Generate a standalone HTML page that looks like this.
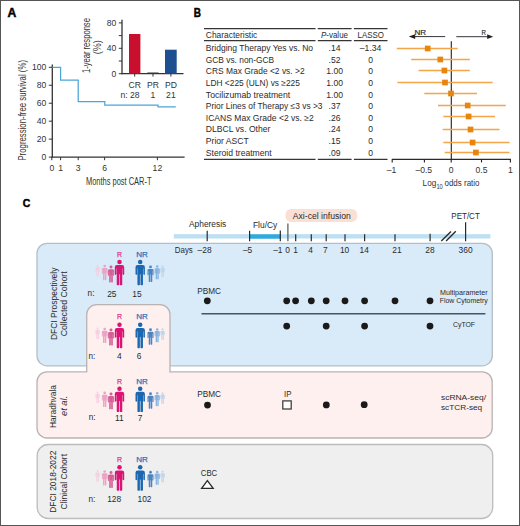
<!DOCTYPE html><html><head><meta charset="utf-8"><style>html,body{margin:0;padding:0;background:#fff;overflow:hidden}svg{display:block}text{font-family:"Liberation Sans",sans-serif}</style></head><body>
<svg width="520" height="526" viewBox="0 0 520 526">
<rect x="0" y="0" width="520" height="526" fill="#fff"/>
<text x="7.4" y="16.9" font-size="12.2" text-anchor="start" fill="#000" font-weight="bold" font-style="normal" textLength="8.8" lengthAdjust="spacingAndGlyphs" stroke="#000" stroke-width="0.45">A</text>
<line x1="52.3" y1="64.6" x2="52.3" y2="157.6" stroke="#333" stroke-width="1.3"/>
<line x1="48.8" y1="67.3" x2="52.3" y2="67.3" stroke="#333" stroke-width="1.0"/>
<text x="46.4" y="70.39999999999999" font-size="8.6" text-anchor="end" fill="#333" font-weight="normal" font-style="normal">100</text>
<line x1="48.8" y1="85.25999999999999" x2="52.3" y2="85.25999999999999" stroke="#333" stroke-width="1.0"/>
<text x="46.4" y="88.35999999999999" font-size="8.6" text-anchor="end" fill="#333" font-weight="normal" font-style="normal">80</text>
<line x1="48.8" y1="103.22" x2="52.3" y2="103.22" stroke="#333" stroke-width="1.0"/>
<text x="46.4" y="106.32" font-size="8.6" text-anchor="end" fill="#333" font-weight="normal" font-style="normal">60</text>
<line x1="48.8" y1="121.18" x2="52.3" y2="121.18" stroke="#333" stroke-width="1.0"/>
<text x="46.4" y="124.28" font-size="8.6" text-anchor="end" fill="#333" font-weight="normal" font-style="normal">40</text>
<line x1="48.8" y1="139.14" x2="52.3" y2="139.14" stroke="#333" stroke-width="1.0"/>
<text x="46.4" y="142.23999999999998" font-size="8.6" text-anchor="end" fill="#333" font-weight="normal" font-style="normal">20</text>
<line x1="48.8" y1="157.10000000000002" x2="52.3" y2="157.10000000000002" stroke="#333" stroke-width="1.0"/>
<text x="46.4" y="160.20000000000002" font-size="8.6" text-anchor="end" fill="#333" font-weight="normal" font-style="normal">0</text>
<line x1="51.7" y1="157.1" x2="184.6" y2="157.1" stroke="#333" stroke-width="1.3"/>
<line x1="51.8" y1="157.1" x2="51.8" y2="160.2" stroke="#333" stroke-width="1.0"/>
<text x="51.8" y="170.9" font-size="8.6" text-anchor="middle" fill="#333" font-weight="normal" font-style="normal">0</text>
<line x1="60.599999999999994" y1="157.1" x2="60.599999999999994" y2="160.2" stroke="#333" stroke-width="1.0"/>
<text x="60.599999999999994" y="170.9" font-size="8.6" text-anchor="middle" fill="#333" font-weight="normal" font-style="normal">1</text>
<line x1="78.2" y1="157.1" x2="78.2" y2="160.2" stroke="#333" stroke-width="1.0"/>
<text x="78.2" y="170.9" font-size="8.6" text-anchor="middle" fill="#333" font-weight="normal" font-style="normal">3</text>
<line x1="104.6" y1="157.1" x2="104.6" y2="160.2" stroke="#333" stroke-width="1.0"/>
<text x="104.6" y="170.9" font-size="8.6" text-anchor="middle" fill="#333" font-weight="normal" font-style="normal">6</text>
<line x1="157.4" y1="157.1" x2="157.4" y2="160.2" stroke="#333" stroke-width="1.0"/>
<text x="157.4" y="170.9" font-size="8.6" text-anchor="middle" fill="#333" font-weight="normal" font-style="normal">12</text>
<text x="86.0" y="184.6" font-size="10.6" text-anchor="start" fill="#333" font-weight="normal" font-style="normal" textLength="65.5" lengthAdjust="spacingAndGlyphs">Months post CAR-T</text>
<g transform="translate(26.0,160.6) rotate(-90)">
<text x="0" y="0" font-size="10.8" text-anchor="start" fill="#333" font-weight="normal" font-style="normal" textLength="100.6" lengthAdjust="spacingAndGlyphs">Progression-free survival (%)</text>
</g>
<path d="M52.3,67.3 H60.6 V80 H78.2 V101.5 H104.8 V105 H158 V106.8 H175.8" fill="none" stroke="#4aa5d9" stroke-width="1.25"/>
<line x1="122" y1="19.8" x2="122" y2="74.2" stroke="#333" stroke-width="1.3"/>
<line x1="118.8" y1="22.9" x2="122" y2="22.9" stroke="#333" stroke-width="1.0"/>
<text x="116.2" y="26.0" font-size="8.6" text-anchor="end" fill="#333" font-weight="normal" font-style="normal">80</text>
<line x1="118.8" y1="35.599999999999994" x2="122" y2="35.599999999999994" stroke="#333" stroke-width="1.0"/>
<line x1="118.8" y1="48.3" x2="122" y2="48.3" stroke="#333" stroke-width="1.0"/>
<text x="116.2" y="51.4" font-size="8.6" text-anchor="end" fill="#333" font-weight="normal" font-style="normal">40</text>
<line x1="118.8" y1="60.99999999999999" x2="122" y2="60.99999999999999" stroke="#333" stroke-width="1.0"/>
<line x1="118.8" y1="73.69999999999999" x2="122" y2="73.69999999999999" stroke="#333" stroke-width="1.0"/>
<text x="116.2" y="76.79999999999998" font-size="8.6" text-anchor="end" fill="#333" font-weight="normal" font-style="normal">0</text>
<line x1="121.4" y1="73.6" x2="183.5" y2="73.6" stroke="#333" stroke-width="1.4"/>
<rect x="129" y="34" width="11.4" height="39.6" fill="#c8102e"/>
<rect x="147.3" y="72.5" width="11.3" height="0.8" fill="#2f3a30"/>
<rect x="165" y="49.7" width="11.7" height="23.9" fill="#1d4f91"/>
<line x1="134.7" y1="73.6" x2="134.7" y2="76.6" stroke="#333" stroke-width="1.0"/>
<line x1="153" y1="73.6" x2="153" y2="76.6" stroke="#333" stroke-width="1.0"/>
<line x1="170.9" y1="73.6" x2="170.9" y2="76.6" stroke="#333" stroke-width="1.0"/>
<text x="134.7" y="88.4" font-size="8.6" text-anchor="middle" fill="#333" font-weight="normal" font-style="normal">CR</text>
<text x="153" y="88.4" font-size="8.6" text-anchor="middle" fill="#333" font-weight="normal" font-style="normal">PR</text>
<text x="170.9" y="88.4" font-size="8.6" text-anchor="middle" fill="#333" font-weight="normal" font-style="normal">PD</text>
<text x="120.6" y="97.6" font-size="8.6" text-anchor="start" fill="#333" font-weight="normal" font-style="normal">n:</text>
<text x="134.7" y="97.6" font-size="8.6" text-anchor="middle" fill="#333" font-weight="normal" font-style="normal">28</text>
<text x="153" y="97.6" font-size="8.6" text-anchor="middle" fill="#333" font-weight="normal" font-style="normal">1</text>
<text x="170.9" y="97.6" font-size="8.6" text-anchor="middle" fill="#333" font-weight="normal" font-style="normal">21</text>
<g transform="translate(89.9,45.6) rotate(-90)">
<text x="0" y="0" font-size="10.5" text-anchor="middle" fill="#333" font-weight="normal" font-style="normal" textLength="55" lengthAdjust="spacingAndGlyphs">1-year response</text>
</g>
<g transform="translate(100.8,47.2) rotate(-90)">
<text x="0" y="0" font-size="10.5" text-anchor="middle" fill="#333" font-weight="normal" font-style="normal" textLength="14" lengthAdjust="spacingAndGlyphs">(%)</text>
</g>
<text x="193.8" y="16.9" font-size="12.0" text-anchor="start" fill="#000" font-weight="bold" font-style="normal" textLength="7.2" lengthAdjust="spacingAndGlyphs" stroke="#000" stroke-width="0.45">B</text>
<line x1="204" y1="28.5" x2="315.5" y2="28.5" stroke="#353535" stroke-width="1.25"/>
<line x1="317.8" y1="28.5" x2="351.6" y2="28.5" stroke="#353535" stroke-width="1.25"/>
<line x1="353.9" y1="28.5" x2="387.5" y2="28.5" stroke="#353535" stroke-width="1.25"/>
<line x1="204" y1="40.6" x2="315.5" y2="40.6" stroke="#353535" stroke-width="1.25"/>
<line x1="317.8" y1="40.6" x2="351.6" y2="40.6" stroke="#353535" stroke-width="1.25"/>
<line x1="353.9" y1="40.6" x2="387.5" y2="40.6" stroke="#353535" stroke-width="1.25"/>
<line x1="204" y1="159.4" x2="315.5" y2="159.4" stroke="#353535" stroke-width="1.25"/>
<line x1="317.8" y1="159.4" x2="351.6" y2="159.4" stroke="#353535" stroke-width="1.25"/>
<line x1="353.9" y1="159.4" x2="387.5" y2="159.4" stroke="#353535" stroke-width="1.25"/>
<text x="205.8" y="37.8" font-size="9" text-anchor="start" fill="#2b2b2b" font-weight="normal" font-style="normal" textLength="51.5" lengthAdjust="spacingAndGlyphs">Characteristic</text>
<text x="321" y="37.8" font-size="9" fill="#2b2b2b" textLength="27" lengthAdjust="spacingAndGlyphs"><tspan font-style="italic">P</tspan>-value</text>
<text x="357.6" y="37.8" font-size="9" text-anchor="start" fill="#2b2b2b" font-weight="normal" font-style="normal" textLength="26.4" lengthAdjust="spacingAndGlyphs">LASSO</text>
<text x="205.8" y="51.0" font-size="8.6" text-anchor="start" fill="#2b2b2b" font-weight="normal" font-style="normal" textLength="107.3" lengthAdjust="spacingAndGlyphs">Bridging Therapy Yes vs. No</text>
<text x="334.6" y="51.0" font-size="8.6" text-anchor="middle" fill="#2b2b2b" font-weight="normal" font-style="normal">.14</text>
<text x="370.6" y="51.0" font-size="8.6" text-anchor="middle" fill="#2b2b2b" font-weight="normal" font-style="normal">–1.34</text>
<text x="205.8" y="62.63" font-size="8.6" text-anchor="start" fill="#2b2b2b" font-weight="normal" font-style="normal" textLength="68.3" lengthAdjust="spacingAndGlyphs">GCB vs. non-GCB</text>
<text x="334.6" y="62.63" font-size="8.6" text-anchor="middle" fill="#2b2b2b" font-weight="normal" font-style="normal">.52</text>
<text x="370.6" y="62.63" font-size="8.6" text-anchor="middle" fill="#2b2b2b" font-weight="normal" font-style="normal">0</text>
<text x="205.8" y="74.26" font-size="8.6" text-anchor="start" fill="#2b2b2b" font-weight="normal" font-style="normal" textLength="98.8" lengthAdjust="spacingAndGlyphs">CRS Max Grade &lt;2 vs. &gt;2</text>
<text x="334.6" y="74.26" font-size="8.6" text-anchor="middle" fill="#2b2b2b" font-weight="normal" font-style="normal">1.00</text>
<text x="370.6" y="74.26" font-size="8.6" text-anchor="middle" fill="#2b2b2b" font-weight="normal" font-style="normal">0</text>
<text x="205.8" y="85.89" font-size="8.6" text-anchor="start" fill="#2b2b2b" font-weight="normal" font-style="normal" textLength="94.1" lengthAdjust="spacingAndGlyphs">LDH &lt;225 (ULN) vs ≥225</text>
<text x="334.6" y="85.89" font-size="8.6" text-anchor="middle" fill="#2b2b2b" font-weight="normal" font-style="normal">1.00</text>
<text x="370.6" y="85.89" font-size="8.6" text-anchor="middle" fill="#2b2b2b" font-weight="normal" font-style="normal">0</text>
<text x="205.8" y="97.52000000000001" font-size="8.6" text-anchor="start" fill="#2b2b2b" font-weight="normal" font-style="normal" textLength="84.4" lengthAdjust="spacingAndGlyphs">Tocilizumab treatment</text>
<text x="334.6" y="97.52000000000001" font-size="8.6" text-anchor="middle" fill="#2b2b2b" font-weight="normal" font-style="normal">1.00</text>
<text x="370.6" y="97.52000000000001" font-size="8.6" text-anchor="middle" fill="#2b2b2b" font-weight="normal" font-style="normal">0</text>
<text x="205.8" y="109.15" font-size="8.6" text-anchor="start" fill="#2b2b2b" font-weight="normal" font-style="normal" textLength="116.7" lengthAdjust="spacingAndGlyphs">Prior Lines of Therapy ≤3 vs &gt;3</text>
<text x="334.6" y="109.15" font-size="8.6" text-anchor="middle" fill="#2b2b2b" font-weight="normal" font-style="normal">.37</text>
<text x="370.6" y="109.15" font-size="8.6" text-anchor="middle" fill="#2b2b2b" font-weight="normal" font-style="normal">0</text>
<text x="205.8" y="120.78" font-size="8.6" text-anchor="start" fill="#2b2b2b" font-weight="normal" font-style="normal" textLength="108" lengthAdjust="spacingAndGlyphs">ICANS Max Grade &lt;2 vs. ≥2</text>
<text x="334.6" y="120.78" font-size="8.6" text-anchor="middle" fill="#2b2b2b" font-weight="normal" font-style="normal">.26</text>
<text x="370.6" y="120.78" font-size="8.6" text-anchor="middle" fill="#2b2b2b" font-weight="normal" font-style="normal">0</text>
<text x="205.8" y="132.41000000000003" font-size="8.6" text-anchor="start" fill="#2b2b2b" font-weight="normal" font-style="normal">DLBCL vs. Other</text>
<text x="334.6" y="132.41000000000003" font-size="8.6" text-anchor="middle" fill="#2b2b2b" font-weight="normal" font-style="normal">.24</text>
<text x="370.6" y="132.41000000000003" font-size="8.6" text-anchor="middle" fill="#2b2b2b" font-weight="normal" font-style="normal">0</text>
<text x="205.8" y="144.04000000000002" font-size="8.6" text-anchor="start" fill="#2b2b2b" font-weight="normal" font-style="normal">Prior ASCT</text>
<text x="334.6" y="144.04000000000002" font-size="8.6" text-anchor="middle" fill="#2b2b2b" font-weight="normal" font-style="normal">.15</text>
<text x="370.6" y="144.04000000000002" font-size="8.6" text-anchor="middle" fill="#2b2b2b" font-weight="normal" font-style="normal">0</text>
<text x="205.8" y="155.67000000000002" font-size="8.6" text-anchor="start" fill="#2b2b2b" font-weight="normal" font-style="normal">Steroid treatment</text>
<text x="334.6" y="155.67000000000002" font-size="8.6" text-anchor="middle" fill="#2b2b2b" font-weight="normal" font-style="normal">.09</text>
<text x="370.6" y="155.67000000000002" font-size="8.6" text-anchor="middle" fill="#2b2b2b" font-weight="normal" font-style="normal">0</text>
<line x1="451.3" y1="41.3" x2="451.3" y2="159.5" stroke="#231f20" stroke-width="1.1"/>
<line x1="391.9" y1="159.4" x2="510.9" y2="159.4" stroke="#2b2b2b" stroke-width="1.25"/>
<line x1="392.2" y1="159.3" x2="392.2" y2="162.4" stroke="#231f20" stroke-width="1.1"/>
<text x="391.59999999999997" y="173.4" font-size="8.6" text-anchor="middle" fill="#333" font-weight="normal" font-style="normal">–1</text>
<line x1="424.4" y1="159.3" x2="424.4" y2="162.4" stroke="#231f20" stroke-width="1.1"/>
<text x="423.79999999999995" y="173.4" font-size="8.6" text-anchor="middle" fill="#333" font-weight="normal" font-style="normal">–0.5</text>
<line x1="451.2" y1="159.3" x2="451.2" y2="162.4" stroke="#231f20" stroke-width="1.1"/>
<text x="451.2" y="173.4" font-size="8.6" text-anchor="middle" fill="#333" font-weight="normal" font-style="normal">0</text>
<line x1="481.5" y1="159.3" x2="481.5" y2="162.4" stroke="#231f20" stroke-width="1.1"/>
<text x="481.5" y="173.4" font-size="8.6" text-anchor="middle" fill="#333" font-weight="normal" font-style="normal">0.5</text>
<line x1="510.4" y1="159.3" x2="510.4" y2="162.4" stroke="#231f20" stroke-width="1.1"/>
<text x="510.4" y="173.4" font-size="8.6" text-anchor="middle" fill="#333" font-weight="normal" font-style="normal">1</text>
<text x="422.6" y="186.4" font-size="9.6" text-anchor="start" fill="#333" font-weight="normal" font-style="normal" textLength="13.6" lengthAdjust="spacingAndGlyphs">Log</text>
<text x="436.4" y="188.8" font-size="7.0" text-anchor="start" fill="#333" font-weight="normal" font-style="normal" textLength="6.4" lengthAdjust="spacingAndGlyphs">10</text>
<text x="444.5" y="186.4" font-size="9.6" text-anchor="start" fill="#333" font-weight="normal" font-style="normal" textLength="35" lengthAdjust="spacingAndGlyphs">odds ratio</text>
<line x1="396.8" y1="48.5" x2="457.7" y2="48.5" stroke="#f3a54a" stroke-width="1.3"/>
<rect x="424.85" y="45.65" width="5.7" height="5.7" fill="#e8850f"/>
<line x1="411.2" y1="59.5" x2="469.8" y2="59.5" stroke="#f3a54a" stroke-width="1.3"/>
<rect x="437.45" y="56.65" width="5.7" height="5.7" fill="#e8850f"/>
<line x1="418.6" y1="70.5" x2="469.8" y2="70.5" stroke="#f3a54a" stroke-width="1.3"/>
<rect x="441.55" y="67.65" width="5.7" height="5.7" fill="#e8850f"/>
<line x1="397.4" y1="82.5" x2="492.6" y2="82.5" stroke="#f3a54a" stroke-width="1.3"/>
<rect x="442.15" y="79.65" width="5.7" height="5.7" fill="#e8850f"/>
<line x1="424.3" y1="93.5" x2="477.0" y2="93.5" stroke="#f3a54a" stroke-width="1.3"/>
<rect x="448.15" y="90.65" width="5.7" height="5.7" fill="#e8850f"/>
<line x1="438.0" y1="105.5" x2="505.8" y2="105.5" stroke="#f3a54a" stroke-width="1.3"/>
<rect x="464.85" y="102.65" width="5.7" height="5.7" fill="#e8850f"/>
<line x1="443.4" y1="116.5" x2="495.0" y2="116.5" stroke="#f3a54a" stroke-width="1.3"/>
<rect x="465.75" y="113.65" width="5.7" height="5.7" fill="#e8850f"/>
<line x1="442.7" y1="129.5" x2="499.5" y2="129.5" stroke="#f3a54a" stroke-width="1.3"/>
<rect x="467.65" y="126.65" width="5.7" height="5.7" fill="#e8850f"/>
<line x1="443.3" y1="142.5" x2="509.5" y2="142.5" stroke="#f3a54a" stroke-width="1.3"/>
<rect x="469.75" y="139.65" width="5.7" height="5.7" fill="#e8850f"/>
<line x1="444.7" y1="152.5" x2="509.5" y2="152.5" stroke="#f3a54a" stroke-width="1.3"/>
<rect x="473.05" y="149.65" width="5.7" height="5.7" fill="#e8850f"/>
<line x1="413" y1="36.6" x2="445.2" y2="36.6" stroke="#35343e" stroke-width="1.0"/>
<path d="M408.8,36.6 L415.2,34.3 L415.2,38.9 Z" fill="#222"/>
<line x1="456.3" y1="36.7" x2="488" y2="36.7" stroke="#35343e" stroke-width="1.0"/>
<path d="M493.2,36.7 L487.2,34.3 L487.2,39.1 Z" fill="#222"/>
<text x="414.4" y="34.7" font-size="7.5" text-anchor="start" fill="#2b2b2b" font-weight="normal" font-style="normal" textLength="11.6" lengthAdjust="spacingAndGlyphs" stroke="#2b2b2b" stroke-width="0.2">NR</text>
<text x="481.6" y="34.7" font-size="7.5" text-anchor="start" fill="#2b2b2b" font-weight="normal" font-style="normal" textLength="4.4" lengthAdjust="spacingAndGlyphs" stroke="#2b2b2b" stroke-width="0.2">R</text>
<text x="22.8" y="207.2" font-size="11.8" text-anchor="start" fill="#000" font-weight="bold" font-style="normal" textLength="7.6" lengthAdjust="spacingAndGlyphs" stroke="#000" stroke-width="0.45">C</text>
<rect x="37" y="243.4" width="455.3" height="122.4" rx="10" fill="#d9eaf8" stroke="#b4bec6" stroke-width="1.3"/>
<path d="M37,381.9 A10,10 0 0 1 47,371.9 H86.7 V314.6 A10,10 0 0 1 96.7,304.6 H160 A10,10 0 0 1 170,314.6 V371.9 H482.2 A10,10 0 0 1 492.2,381.9 V428 A10,10 0 0 1 482.2,438 H47 A10,10 0 0 1 37,428 Z" fill="#fdf0ef" stroke="#b9b3b3" stroke-width="1.3"/>
<rect x="37.2" y="444.5" width="455.5" height="74" rx="11" fill="#efefef" stroke="#bcbcbc" stroke-width="1.3"/>
<rect x="173.8" y="234.2" width="316.6" height="4.3" fill="#bcdff2"/>
<rect x="249.5" y="234.3" width="31.2" height="4.4" fill="#2eaadf"/>
<line x1="287.9" y1="223.6" x2="287.9" y2="241.3" stroke="#555" stroke-width="1.2"/>
<line x1="207.2" y1="230.8" x2="207.2" y2="241.3" stroke="#2a2a2a" stroke-width="1.2"/>
<line x1="249.6" y1="230.8" x2="249.6" y2="241.3" stroke="#2a2a2a" stroke-width="1.2"/>
<line x1="280.3" y1="230.6" x2="280.3" y2="241.3" stroke="#2a2a2a" stroke-width="1.2"/>
<line x1="295.7" y1="234.2" x2="295.7" y2="241.3" stroke="#2a2a2a" stroke-width="1.2"/>
<line x1="311.3" y1="234.2" x2="311.3" y2="241.3" stroke="#2a2a2a" stroke-width="1.2"/>
<line x1="326.2" y1="234.2" x2="326.2" y2="241.3" stroke="#2a2a2a" stroke-width="1.2"/>
<line x1="345" y1="234.2" x2="345" y2="241.3" stroke="#2a2a2a" stroke-width="1.2"/>
<line x1="364.6" y1="234.2" x2="364.6" y2="241.3" stroke="#2a2a2a" stroke-width="1.2"/>
<line x1="395" y1="234.2" x2="395" y2="241.3" stroke="#2a2a2a" stroke-width="1.2"/>
<line x1="430.1" y1="233.8" x2="430.1" y2="241.3" stroke="#2a2a2a" stroke-width="1.2"/>
<line x1="465.6" y1="222.2" x2="465.6" y2="241.3" stroke="#2a2a2a" stroke-width="1.2"/>
<line x1="441.3" y1="241" x2="451" y2="231.4" stroke="#2a2a2a" stroke-width="1.35"/>
<line x1="446.1" y1="241" x2="455.8" y2="231.2" stroke="#2a2a2a" stroke-width="1.35"/>
<text x="189" y="227.2" font-size="8.4" text-anchor="start" fill="#2b2b2b" font-weight="normal" font-style="normal" textLength="37.2" lengthAdjust="spacingAndGlyphs">Apheresis</text>
<text x="253" y="227.9" font-size="8.4" text-anchor="start" fill="#2b2b2b" font-weight="normal" font-style="normal" textLength="24.2" lengthAdjust="spacingAndGlyphs">Flu/Cy</text>
<rect x="285.6" y="209" width="71.6" height="12.9" rx="5.5" fill="#fadfd4"/>
<text x="292.8" y="219.2" font-size="8.4" text-anchor="start" fill="#2b2b2b" font-weight="normal" font-style="normal" textLength="58" lengthAdjust="spacingAndGlyphs">Axi-cel infusion</text>
<text x="451.3" y="218.9" font-size="8.4" text-anchor="start" fill="#2b2b2b" font-weight="normal" font-style="normal" textLength="28.5" lengthAdjust="spacingAndGlyphs">PET/CT</text>
<text x="174.8" y="253" font-size="8.4" text-anchor="start" fill="#2b2b2b" font-weight="normal" font-style="normal" textLength="18" lengthAdjust="spacingAndGlyphs">Days</text>
<text x="204.6" y="253" font-size="8.4" text-anchor="middle" fill="#2b2b2b" font-weight="normal" font-style="normal">–28</text>
<text x="247.6" y="253" font-size="8.4" text-anchor="middle" fill="#2b2b2b" font-weight="normal" font-style="normal">–5</text>
<text x="277.8" y="253" font-size="8.4" text-anchor="middle" fill="#2b2b2b" font-weight="normal" font-style="normal">–1</text>
<text x="287.6" y="253" font-size="8.4" text-anchor="middle" fill="#2b2b2b" font-weight="normal" font-style="normal">0</text>
<text x="295.7" y="253" font-size="8.4" text-anchor="middle" fill="#2b2b2b" font-weight="normal" font-style="normal">1</text>
<text x="310.6" y="253" font-size="8.4" text-anchor="middle" fill="#2b2b2b" font-weight="normal" font-style="normal">4</text>
<text x="325.4" y="253" font-size="8.4" text-anchor="middle" fill="#2b2b2b" font-weight="normal" font-style="normal">7</text>
<text x="344.6" y="253" font-size="8.4" text-anchor="middle" fill="#2b2b2b" font-weight="normal" font-style="normal">10</text>
<text x="364.2" y="253" font-size="8.4" text-anchor="middle" fill="#2b2b2b" font-weight="normal" font-style="normal">14</text>
<text x="397" y="253" font-size="8.4" text-anchor="middle" fill="#2b2b2b" font-weight="normal" font-style="normal">21</text>
<text x="430" y="253" font-size="8.4" text-anchor="middle" fill="#2b2b2b" font-weight="normal" font-style="normal">28</text>
<text x="465.6" y="253" font-size="8.4" text-anchor="middle" fill="#2b2b2b" font-weight="normal" font-style="normal">360</text>
<g transform="translate(57.0,303.8) rotate(-90)">
<text x="0" y="0" font-size="8.4" text-anchor="middle" fill="#2b2b2b" font-weight="normal" font-style="normal" textLength="72.5" lengthAdjust="spacingAndGlyphs">DFCI Prospectively</text>
</g>
<g transform="translate(66.7,303.8) rotate(-90)">
<text x="0" y="0" font-size="8.4" text-anchor="middle" fill="#2b2b2b" font-weight="normal" font-style="normal" textLength="65" lengthAdjust="spacingAndGlyphs">Collected Cohort</text>
</g>
<g transform="translate(56.2,406.5) rotate(-90)">
<text x="0" y="0" font-size="8.4" text-anchor="middle" fill="#2b2b2b" font-weight="normal" font-style="normal" textLength="43" lengthAdjust="spacingAndGlyphs">Haradhvala</text>
</g>
<g transform="translate(66.9,405.9) rotate(-90)">
<text x="0" y="0" font-size="8.4" text-anchor="middle" fill="#2b2b2b" font-weight="normal" font-style="italic" textLength="20.3" lengthAdjust="spacingAndGlyphs">et al.</text>
</g>
<g transform="translate(56.1,481.7) rotate(-90)">
<text x="0" y="0" font-size="8.4" text-anchor="middle" fill="#2b2b2b" font-weight="normal" font-style="normal" textLength="62.2" lengthAdjust="spacingAndGlyphs">DFCI 2018-2022</text>
</g>
<g transform="translate(66.7,481.7) rotate(-90)">
<text x="0" y="0" font-size="8.4" text-anchor="middle" fill="#2b2b2b" font-weight="normal" font-style="normal" textLength="55.6" lengthAdjust="spacingAndGlyphs">Clinical Cohort</text>
</g>
<text x="119.6" y="256.8" font-size="8.0" text-anchor="middle" fill="#dc3387" font-weight="normal" font-style="normal" textLength="5.0" lengthAdjust="spacingAndGlyphs" stroke="#dc3387" stroke-width="0.25">R</text>
<text x="142.1" y="256.8" font-size="8.0" text-anchor="middle" fill="#2f70b8" font-weight="normal" font-style="normal" textLength="11.6" lengthAdjust="spacingAndGlyphs" stroke="#2f70b8" stroke-width="0.25">NR</text>
<g transform="translate(97.6,265.7) scale(0.45)" fill="#f5cfe0"><circle cx="0" cy="0" r="2.25"/><path d="M-4.7,5.4 Q-4.7,3.1 -2.5,3.1 H2.5 Q4.7,3.1 4.7,5.4 V12.2 Q4.7,13 3.95,13 Q3.2,13 3.2,12.2 V6.6 H2.85 V12.3 H-2.85 V6.6 H-3.2 V12.2 Q-3.2,13 -3.95,13 Q-4.7,13 -4.7,12.2 Z"/><rect x="-2.75" y="11.5" width="2.45" height="11.9" rx="0.7"/><rect x="0.3" y="11.5" width="2.45" height="11.9" rx="0.7"/></g>
<g transform="translate(104.7,266.09999999999997) scale(0.6)" fill="#eba3c4"><circle cx="0" cy="0" r="2.25"/><path d="M-4.7,5.4 Q-4.7,3.1 -2.5,3.1 H2.5 Q4.7,3.1 4.7,5.4 V12.2 Q4.7,13 3.95,13 Q3.2,13 3.2,12.2 V6.6 H2.85 V12.3 H-2.85 V6.6 H-3.2 V12.2 Q-3.2,13 -3.95,13 Q-4.7,13 -4.7,12.2 Z"/><rect x="-2.75" y="11.5" width="2.45" height="11.9" rx="0.7"/><rect x="0.3" y="11.5" width="2.45" height="11.9" rx="0.7"/></g>
<g transform="translate(111.0,267.09999999999997) scale(0.66)" fill="#d65d95"><circle cx="0" cy="0" r="2.25"/><path d="M-4.7,5.4 Q-4.7,3.1 -2.5,3.1 H2.5 Q4.7,3.1 4.7,5.4 V12.2 Q4.7,13 3.95,13 Q3.2,13 3.2,12.2 V6.6 H2.85 V12.3 H-2.85 V6.6 H-3.2 V12.2 Q-3.2,13 -3.95,13 Q-4.7,13 -4.7,12.2 Z"/><rect x="-2.75" y="11.5" width="2.45" height="11.9" rx="0.7"/><rect x="0.3" y="11.5" width="2.45" height="11.9" rx="0.7"/></g>
<g transform="translate(119.5,261.9) scale(1.0)" fill="#dc1474"><circle cx="0" cy="0" r="2.25"/><path d="M-4.7,5.4 Q-4.7,3.1 -2.5,3.1 H2.5 Q4.7,3.1 4.7,5.4 V12.2 Q4.7,13 3.95,13 Q3.2,13 3.2,12.2 V6.6 H2.85 V12.3 H-2.85 V6.6 H-3.2 V12.2 Q-3.2,13 -3.95,13 Q-4.7,13 -4.7,12.2 Z"/><rect x="-2.75" y="11.5" width="2.45" height="11.9" rx="0.7"/><rect x="0.3" y="11.5" width="2.45" height="11.9" rx="0.7"/></g>
<g transform="translate(162.6,266.4) scale(0.45)" fill="#bdd5eb"><circle cx="0" cy="0" r="2.25"/><path d="M-4.7,5.4 Q-4.7,3.1 -2.5,3.1 H2.5 Q4.7,3.1 4.7,5.4 V12.2 Q4.7,13 3.95,13 Q3.2,13 3.2,12.2 V6.6 H2.85 V12.3 H-2.85 V6.6 H-3.2 V12.2 Q-3.2,13 -3.95,13 Q-4.7,13 -4.7,12.2 Z"/><rect x="-2.75" y="11.5" width="2.45" height="11.9" rx="0.7"/><rect x="0.3" y="11.5" width="2.45" height="11.9" rx="0.7"/></g>
<g transform="translate(157.2,266.5) scale(0.55)" fill="#88b3de"><circle cx="0" cy="0" r="2.25"/><path d="M-4.7,5.4 Q-4.7,3.1 -2.5,3.1 H2.5 Q4.7,3.1 4.7,5.4 V12.2 Q4.7,13 3.95,13 Q3.2,13 3.2,12.2 V6.6 H2.85 V12.3 H-2.85 V6.6 H-3.2 V12.2 Q-3.2,13 -3.95,13 Q-4.7,13 -4.7,12.2 Z"/><rect x="-2.75" y="11.5" width="2.45" height="11.9" rx="0.7"/><rect x="0.3" y="11.5" width="2.45" height="11.9" rx="0.7"/></g>
<g transform="translate(150.5,266.9) scale(0.64)" fill="#4c84c1"><circle cx="0" cy="0" r="2.25"/><path d="M-4.7,5.4 Q-4.7,3.1 -2.5,3.1 H2.5 Q4.7,3.1 4.7,5.4 V12.2 Q4.7,13 3.95,13 Q3.2,13 3.2,12.2 V6.6 H2.85 V12.3 H-2.85 V6.6 H-3.2 V12.2 Q-3.2,13 -3.95,13 Q-4.7,13 -4.7,12.2 Z"/><rect x="-2.75" y="11.5" width="2.45" height="11.9" rx="0.7"/><rect x="0.3" y="11.5" width="2.45" height="11.9" rx="0.7"/></g>
<g transform="translate(140.2,261.9) scale(1.0)" fill="#1b67b0"><circle cx="0" cy="0" r="2.25"/><path d="M-4.7,5.4 Q-4.7,3.1 -2.5,3.1 H2.5 Q4.7,3.1 4.7,5.4 V12.2 Q4.7,13 3.95,13 Q3.2,13 3.2,12.2 V6.6 H2.85 V12.3 H-2.85 V6.6 H-3.2 V12.2 Q-3.2,13 -3.95,13 Q-4.7,13 -4.7,12.2 Z"/><rect x="-2.75" y="11.5" width="2.45" height="11.9" rx="0.7"/><rect x="0.3" y="11.5" width="2.45" height="11.9" rx="0.7"/></g>
<text x="87.6" y="296.3" font-size="8.2" text-anchor="start" fill="#2b2b2b" font-weight="normal" font-style="normal">n:</text>
<text x="111.8" y="296.5" font-size="8.4" text-anchor="middle" fill="#2b2b2b" font-weight="normal" font-style="normal">25</text>
<text x="136.9" y="296.5" font-size="8.4" text-anchor="middle" fill="#2b2b2b" font-weight="normal" font-style="normal">15</text>
<text x="119.6" y="318.9" font-size="8.0" text-anchor="middle" fill="#dc3387" font-weight="normal" font-style="normal" textLength="5.0" lengthAdjust="spacingAndGlyphs" stroke="#dc3387" stroke-width="0.25">R</text>
<text x="142.1" y="318.9" font-size="8.0" text-anchor="middle" fill="#2f70b8" font-weight="normal" font-style="normal" textLength="11.6" lengthAdjust="spacingAndGlyphs" stroke="#2f70b8" stroke-width="0.25">NR</text>
<g transform="translate(97.6,328.6) scale(0.45)" fill="#f5cfe0"><circle cx="0" cy="0" r="2.25"/><path d="M-4.7,5.4 Q-4.7,3.1 -2.5,3.1 H2.5 Q4.7,3.1 4.7,5.4 V12.2 Q4.7,13 3.95,13 Q3.2,13 3.2,12.2 V6.6 H2.85 V12.3 H-2.85 V6.6 H-3.2 V12.2 Q-3.2,13 -3.95,13 Q-4.7,13 -4.7,12.2 Z"/><rect x="-2.75" y="11.5" width="2.45" height="11.9" rx="0.7"/><rect x="0.3" y="11.5" width="2.45" height="11.9" rx="0.7"/></g>
<g transform="translate(104.7,329.0) scale(0.6)" fill="#eba3c4"><circle cx="0" cy="0" r="2.25"/><path d="M-4.7,5.4 Q-4.7,3.1 -2.5,3.1 H2.5 Q4.7,3.1 4.7,5.4 V12.2 Q4.7,13 3.95,13 Q3.2,13 3.2,12.2 V6.6 H2.85 V12.3 H-2.85 V6.6 H-3.2 V12.2 Q-3.2,13 -3.95,13 Q-4.7,13 -4.7,12.2 Z"/><rect x="-2.75" y="11.5" width="2.45" height="11.9" rx="0.7"/><rect x="0.3" y="11.5" width="2.45" height="11.9" rx="0.7"/></g>
<g transform="translate(111.0,330.0) scale(0.66)" fill="#d65d95"><circle cx="0" cy="0" r="2.25"/><path d="M-4.7,5.4 Q-4.7,3.1 -2.5,3.1 H2.5 Q4.7,3.1 4.7,5.4 V12.2 Q4.7,13 3.95,13 Q3.2,13 3.2,12.2 V6.6 H2.85 V12.3 H-2.85 V6.6 H-3.2 V12.2 Q-3.2,13 -3.95,13 Q-4.7,13 -4.7,12.2 Z"/><rect x="-2.75" y="11.5" width="2.45" height="11.9" rx="0.7"/><rect x="0.3" y="11.5" width="2.45" height="11.9" rx="0.7"/></g>
<g transform="translate(119.5,324.8) scale(1.0)" fill="#dc1474"><circle cx="0" cy="0" r="2.25"/><path d="M-4.7,5.4 Q-4.7,3.1 -2.5,3.1 H2.5 Q4.7,3.1 4.7,5.4 V12.2 Q4.7,13 3.95,13 Q3.2,13 3.2,12.2 V6.6 H2.85 V12.3 H-2.85 V6.6 H-3.2 V12.2 Q-3.2,13 -3.95,13 Q-4.7,13 -4.7,12.2 Z"/><rect x="-2.75" y="11.5" width="2.45" height="11.9" rx="0.7"/><rect x="0.3" y="11.5" width="2.45" height="11.9" rx="0.7"/></g>
<g transform="translate(162.6,329.3) scale(0.45)" fill="#bdd5eb"><circle cx="0" cy="0" r="2.25"/><path d="M-4.7,5.4 Q-4.7,3.1 -2.5,3.1 H2.5 Q4.7,3.1 4.7,5.4 V12.2 Q4.7,13 3.95,13 Q3.2,13 3.2,12.2 V6.6 H2.85 V12.3 H-2.85 V6.6 H-3.2 V12.2 Q-3.2,13 -3.95,13 Q-4.7,13 -4.7,12.2 Z"/><rect x="-2.75" y="11.5" width="2.45" height="11.9" rx="0.7"/><rect x="0.3" y="11.5" width="2.45" height="11.9" rx="0.7"/></g>
<g transform="translate(157.2,329.40000000000003) scale(0.55)" fill="#88b3de"><circle cx="0" cy="0" r="2.25"/><path d="M-4.7,5.4 Q-4.7,3.1 -2.5,3.1 H2.5 Q4.7,3.1 4.7,5.4 V12.2 Q4.7,13 3.95,13 Q3.2,13 3.2,12.2 V6.6 H2.85 V12.3 H-2.85 V6.6 H-3.2 V12.2 Q-3.2,13 -3.95,13 Q-4.7,13 -4.7,12.2 Z"/><rect x="-2.75" y="11.5" width="2.45" height="11.9" rx="0.7"/><rect x="0.3" y="11.5" width="2.45" height="11.9" rx="0.7"/></g>
<g transform="translate(150.5,329.8) scale(0.64)" fill="#4c84c1"><circle cx="0" cy="0" r="2.25"/><path d="M-4.7,5.4 Q-4.7,3.1 -2.5,3.1 H2.5 Q4.7,3.1 4.7,5.4 V12.2 Q4.7,13 3.95,13 Q3.2,13 3.2,12.2 V6.6 H2.85 V12.3 H-2.85 V6.6 H-3.2 V12.2 Q-3.2,13 -3.95,13 Q-4.7,13 -4.7,12.2 Z"/><rect x="-2.75" y="11.5" width="2.45" height="11.9" rx="0.7"/><rect x="0.3" y="11.5" width="2.45" height="11.9" rx="0.7"/></g>
<g transform="translate(140.2,324.8) scale(1.0)" fill="#1b67b0"><circle cx="0" cy="0" r="2.25"/><path d="M-4.7,5.4 Q-4.7,3.1 -2.5,3.1 H2.5 Q4.7,3.1 4.7,5.4 V12.2 Q4.7,13 3.95,13 Q3.2,13 3.2,12.2 V6.6 H2.85 V12.3 H-2.85 V6.6 H-3.2 V12.2 Q-3.2,13 -3.95,13 Q-4.7,13 -4.7,12.2 Z"/><rect x="-2.75" y="11.5" width="2.45" height="11.9" rx="0.7"/><rect x="0.3" y="11.5" width="2.45" height="11.9" rx="0.7"/></g>
<text x="88.5" y="358.5" font-size="8.2" text-anchor="start" fill="#2b2b2b" font-weight="normal" font-style="normal">n:</text>
<text x="119.4" y="358.7" font-size="8.4" text-anchor="middle" fill="#2b2b2b" font-weight="normal" font-style="normal">4</text>
<text x="139.2" y="358.7" font-size="8.4" text-anchor="middle" fill="#2b2b2b" font-weight="normal" font-style="normal">6</text>
<text x="119.6" y="384.09999999999997" font-size="8.0" text-anchor="middle" fill="#dc3387" font-weight="normal" font-style="normal" textLength="5.0" lengthAdjust="spacingAndGlyphs" stroke="#dc3387" stroke-width="0.25">R</text>
<text x="142.1" y="384.09999999999997" font-size="8.0" text-anchor="middle" fill="#2f70b8" font-weight="normal" font-style="normal" textLength="11.6" lengthAdjust="spacingAndGlyphs" stroke="#2f70b8" stroke-width="0.25">NR</text>
<g transform="translate(97.6,392.5) scale(0.45)" fill="#f5cfe0"><circle cx="0" cy="0" r="2.25"/><path d="M-4.7,5.4 Q-4.7,3.1 -2.5,3.1 H2.5 Q4.7,3.1 4.7,5.4 V12.2 Q4.7,13 3.95,13 Q3.2,13 3.2,12.2 V6.6 H2.85 V12.3 H-2.85 V6.6 H-3.2 V12.2 Q-3.2,13 -3.95,13 Q-4.7,13 -4.7,12.2 Z"/><rect x="-2.75" y="11.5" width="2.45" height="11.9" rx="0.7"/><rect x="0.3" y="11.5" width="2.45" height="11.9" rx="0.7"/></g>
<g transform="translate(104.7,392.9) scale(0.6)" fill="#eba3c4"><circle cx="0" cy="0" r="2.25"/><path d="M-4.7,5.4 Q-4.7,3.1 -2.5,3.1 H2.5 Q4.7,3.1 4.7,5.4 V12.2 Q4.7,13 3.95,13 Q3.2,13 3.2,12.2 V6.6 H2.85 V12.3 H-2.85 V6.6 H-3.2 V12.2 Q-3.2,13 -3.95,13 Q-4.7,13 -4.7,12.2 Z"/><rect x="-2.75" y="11.5" width="2.45" height="11.9" rx="0.7"/><rect x="0.3" y="11.5" width="2.45" height="11.9" rx="0.7"/></g>
<g transform="translate(111.0,393.9) scale(0.66)" fill="#d65d95"><circle cx="0" cy="0" r="2.25"/><path d="M-4.7,5.4 Q-4.7,3.1 -2.5,3.1 H2.5 Q4.7,3.1 4.7,5.4 V12.2 Q4.7,13 3.95,13 Q3.2,13 3.2,12.2 V6.6 H2.85 V12.3 H-2.85 V6.6 H-3.2 V12.2 Q-3.2,13 -3.95,13 Q-4.7,13 -4.7,12.2 Z"/><rect x="-2.75" y="11.5" width="2.45" height="11.9" rx="0.7"/><rect x="0.3" y="11.5" width="2.45" height="11.9" rx="0.7"/></g>
<g transform="translate(119.5,388.7) scale(1.0)" fill="#dc1474"><circle cx="0" cy="0" r="2.25"/><path d="M-4.7,5.4 Q-4.7,3.1 -2.5,3.1 H2.5 Q4.7,3.1 4.7,5.4 V12.2 Q4.7,13 3.95,13 Q3.2,13 3.2,12.2 V6.6 H2.85 V12.3 H-2.85 V6.6 H-3.2 V12.2 Q-3.2,13 -3.95,13 Q-4.7,13 -4.7,12.2 Z"/><rect x="-2.75" y="11.5" width="2.45" height="11.9" rx="0.7"/><rect x="0.3" y="11.5" width="2.45" height="11.9" rx="0.7"/></g>
<g transform="translate(162.6,393.2) scale(0.45)" fill="#bdd5eb"><circle cx="0" cy="0" r="2.25"/><path d="M-4.7,5.4 Q-4.7,3.1 -2.5,3.1 H2.5 Q4.7,3.1 4.7,5.4 V12.2 Q4.7,13 3.95,13 Q3.2,13 3.2,12.2 V6.6 H2.85 V12.3 H-2.85 V6.6 H-3.2 V12.2 Q-3.2,13 -3.95,13 Q-4.7,13 -4.7,12.2 Z"/><rect x="-2.75" y="11.5" width="2.45" height="11.9" rx="0.7"/><rect x="0.3" y="11.5" width="2.45" height="11.9" rx="0.7"/></g>
<g transform="translate(157.2,393.3) scale(0.55)" fill="#88b3de"><circle cx="0" cy="0" r="2.25"/><path d="M-4.7,5.4 Q-4.7,3.1 -2.5,3.1 H2.5 Q4.7,3.1 4.7,5.4 V12.2 Q4.7,13 3.95,13 Q3.2,13 3.2,12.2 V6.6 H2.85 V12.3 H-2.85 V6.6 H-3.2 V12.2 Q-3.2,13 -3.95,13 Q-4.7,13 -4.7,12.2 Z"/><rect x="-2.75" y="11.5" width="2.45" height="11.9" rx="0.7"/><rect x="0.3" y="11.5" width="2.45" height="11.9" rx="0.7"/></g>
<g transform="translate(150.5,393.7) scale(0.64)" fill="#4c84c1"><circle cx="0" cy="0" r="2.25"/><path d="M-4.7,5.4 Q-4.7,3.1 -2.5,3.1 H2.5 Q4.7,3.1 4.7,5.4 V12.2 Q4.7,13 3.95,13 Q3.2,13 3.2,12.2 V6.6 H2.85 V12.3 H-2.85 V6.6 H-3.2 V12.2 Q-3.2,13 -3.95,13 Q-4.7,13 -4.7,12.2 Z"/><rect x="-2.75" y="11.5" width="2.45" height="11.9" rx="0.7"/><rect x="0.3" y="11.5" width="2.45" height="11.9" rx="0.7"/></g>
<g transform="translate(140.2,388.7) scale(1.0)" fill="#1b67b0"><circle cx="0" cy="0" r="2.25"/><path d="M-4.7,5.4 Q-4.7,3.1 -2.5,3.1 H2.5 Q4.7,3.1 4.7,5.4 V12.2 Q4.7,13 3.95,13 Q3.2,13 3.2,12.2 V6.6 H2.85 V12.3 H-2.85 V6.6 H-3.2 V12.2 Q-3.2,13 -3.95,13 Q-4.7,13 -4.7,12.2 Z"/><rect x="-2.75" y="11.5" width="2.45" height="11.9" rx="0.7"/><rect x="0.3" y="11.5" width="2.45" height="11.9" rx="0.7"/></g>
<text x="88.8" y="420.40000000000003" font-size="8.2" text-anchor="start" fill="#2b2b2b" font-weight="normal" font-style="normal">n:</text>
<text x="119.4" y="420.6" font-size="8.4" text-anchor="middle" fill="#2b2b2b" font-weight="normal" font-style="normal">11</text>
<text x="140.2" y="420.6" font-size="8.4" text-anchor="middle" fill="#2b2b2b" font-weight="normal" font-style="normal">7</text>
<text x="119.6" y="462.4" font-size="8.0" text-anchor="middle" fill="#dc3387" font-weight="normal" font-style="normal" textLength="5.0" lengthAdjust="spacingAndGlyphs" stroke="#dc3387" stroke-width="0.25">R</text>
<text x="142.1" y="462.4" font-size="8.0" text-anchor="middle" fill="#2f70b8" font-weight="normal" font-style="normal" textLength="11.6" lengthAdjust="spacingAndGlyphs" stroke="#2f70b8" stroke-width="0.25">NR</text>
<g transform="translate(97.6,471.1) scale(0.45)" fill="#f5cfe0"><circle cx="0" cy="0" r="2.25"/><path d="M-4.7,5.4 Q-4.7,3.1 -2.5,3.1 H2.5 Q4.7,3.1 4.7,5.4 V12.2 Q4.7,13 3.95,13 Q3.2,13 3.2,12.2 V6.6 H2.85 V12.3 H-2.85 V6.6 H-3.2 V12.2 Q-3.2,13 -3.95,13 Q-4.7,13 -4.7,12.2 Z"/><rect x="-2.75" y="11.5" width="2.45" height="11.9" rx="0.7"/><rect x="0.3" y="11.5" width="2.45" height="11.9" rx="0.7"/></g>
<g transform="translate(104.7,471.5) scale(0.6)" fill="#eba3c4"><circle cx="0" cy="0" r="2.25"/><path d="M-4.7,5.4 Q-4.7,3.1 -2.5,3.1 H2.5 Q4.7,3.1 4.7,5.4 V12.2 Q4.7,13 3.95,13 Q3.2,13 3.2,12.2 V6.6 H2.85 V12.3 H-2.85 V6.6 H-3.2 V12.2 Q-3.2,13 -3.95,13 Q-4.7,13 -4.7,12.2 Z"/><rect x="-2.75" y="11.5" width="2.45" height="11.9" rx="0.7"/><rect x="0.3" y="11.5" width="2.45" height="11.9" rx="0.7"/></g>
<g transform="translate(111.0,472.5) scale(0.66)" fill="#d65d95"><circle cx="0" cy="0" r="2.25"/><path d="M-4.7,5.4 Q-4.7,3.1 -2.5,3.1 H2.5 Q4.7,3.1 4.7,5.4 V12.2 Q4.7,13 3.95,13 Q3.2,13 3.2,12.2 V6.6 H2.85 V12.3 H-2.85 V6.6 H-3.2 V12.2 Q-3.2,13 -3.95,13 Q-4.7,13 -4.7,12.2 Z"/><rect x="-2.75" y="11.5" width="2.45" height="11.9" rx="0.7"/><rect x="0.3" y="11.5" width="2.45" height="11.9" rx="0.7"/></g>
<g transform="translate(119.5,467.3) scale(1.0)" fill="#dc1474"><circle cx="0" cy="0" r="2.25"/><path d="M-4.7,5.4 Q-4.7,3.1 -2.5,3.1 H2.5 Q4.7,3.1 4.7,5.4 V12.2 Q4.7,13 3.95,13 Q3.2,13 3.2,12.2 V6.6 H2.85 V12.3 H-2.85 V6.6 H-3.2 V12.2 Q-3.2,13 -3.95,13 Q-4.7,13 -4.7,12.2 Z"/><rect x="-2.75" y="11.5" width="2.45" height="11.9" rx="0.7"/><rect x="0.3" y="11.5" width="2.45" height="11.9" rx="0.7"/></g>
<g transform="translate(162.6,471.8) scale(0.45)" fill="#bdd5eb"><circle cx="0" cy="0" r="2.25"/><path d="M-4.7,5.4 Q-4.7,3.1 -2.5,3.1 H2.5 Q4.7,3.1 4.7,5.4 V12.2 Q4.7,13 3.95,13 Q3.2,13 3.2,12.2 V6.6 H2.85 V12.3 H-2.85 V6.6 H-3.2 V12.2 Q-3.2,13 -3.95,13 Q-4.7,13 -4.7,12.2 Z"/><rect x="-2.75" y="11.5" width="2.45" height="11.9" rx="0.7"/><rect x="0.3" y="11.5" width="2.45" height="11.9" rx="0.7"/></g>
<g transform="translate(157.2,471.90000000000003) scale(0.55)" fill="#88b3de"><circle cx="0" cy="0" r="2.25"/><path d="M-4.7,5.4 Q-4.7,3.1 -2.5,3.1 H2.5 Q4.7,3.1 4.7,5.4 V12.2 Q4.7,13 3.95,13 Q3.2,13 3.2,12.2 V6.6 H2.85 V12.3 H-2.85 V6.6 H-3.2 V12.2 Q-3.2,13 -3.95,13 Q-4.7,13 -4.7,12.2 Z"/><rect x="-2.75" y="11.5" width="2.45" height="11.9" rx="0.7"/><rect x="0.3" y="11.5" width="2.45" height="11.9" rx="0.7"/></g>
<g transform="translate(150.5,472.3) scale(0.64)" fill="#4c84c1"><circle cx="0" cy="0" r="2.25"/><path d="M-4.7,5.4 Q-4.7,3.1 -2.5,3.1 H2.5 Q4.7,3.1 4.7,5.4 V12.2 Q4.7,13 3.95,13 Q3.2,13 3.2,12.2 V6.6 H2.85 V12.3 H-2.85 V6.6 H-3.2 V12.2 Q-3.2,13 -3.95,13 Q-4.7,13 -4.7,12.2 Z"/><rect x="-2.75" y="11.5" width="2.45" height="11.9" rx="0.7"/><rect x="0.3" y="11.5" width="2.45" height="11.9" rx="0.7"/></g>
<g transform="translate(140.2,467.3) scale(1.0)" fill="#1b67b0"><circle cx="0" cy="0" r="2.25"/><path d="M-4.7,5.4 Q-4.7,3.1 -2.5,3.1 H2.5 Q4.7,3.1 4.7,5.4 V12.2 Q4.7,13 3.95,13 Q3.2,13 3.2,12.2 V6.6 H2.85 V12.3 H-2.85 V6.6 H-3.2 V12.2 Q-3.2,13 -3.95,13 Q-4.7,13 -4.7,12.2 Z"/><rect x="-2.75" y="11.5" width="2.45" height="11.9" rx="0.7"/><rect x="0.3" y="11.5" width="2.45" height="11.9" rx="0.7"/></g>
<text x="88.4" y="502.2" font-size="8.2" text-anchor="start" fill="#2b2b2b" font-weight="normal" font-style="normal">n:</text>
<text x="114.2" y="502.4" font-size="8.4" text-anchor="middle" fill="#2b2b2b" font-weight="normal" font-style="normal">128</text>
<text x="144.5" y="502.4" font-size="8.4" text-anchor="middle" fill="#2b2b2b" font-weight="normal" font-style="normal">102</text>
<text x="197.2" y="293.5" font-size="8.2" text-anchor="start" fill="#2b2b2b" font-weight="normal" font-style="normal" textLength="23.7" lengthAdjust="spacingAndGlyphs">PBMC</text>
<circle cx="207.3" cy="300.8" r="3.4" fill="#1a1a1a"/>
<circle cx="286.7" cy="300.8" r="3.4" fill="#1a1a1a"/>
<circle cx="295.6" cy="300.8" r="3.4" fill="#1a1a1a"/>
<circle cx="311.3" cy="300.8" r="3.4" fill="#1a1a1a"/>
<circle cx="326.2" cy="300.8" r="3.4" fill="#1a1a1a"/>
<circle cx="345" cy="300.8" r="3.4" fill="#1a1a1a"/>
<circle cx="364.6" cy="300.8" r="3.4" fill="#1a1a1a"/>
<circle cx="395" cy="300.8" r="3.4" fill="#1a1a1a"/>
<circle cx="430" cy="300.8" r="3.4" fill="#1a1a1a"/>
<line x1="201.5" y1="313.8" x2="485.4" y2="313.8" stroke="#3f5865" stroke-width="1.5"/>
<circle cx="286.7" cy="326.1" r="3.4" fill="#1a1a1a"/>
<circle cx="326.2" cy="326.1" r="3.4" fill="#1a1a1a"/>
<circle cx="364.6" cy="326.1" r="3.4" fill="#1a1a1a"/>
<circle cx="430" cy="326.1" r="3.4" fill="#1a1a1a"/>
<text x="440" y="295.2" font-size="7.2" text-anchor="start" fill="#2b2b2b" font-weight="normal" font-style="normal" textLength="47.7" lengthAdjust="spacingAndGlyphs">Multiparameter</text>
<text x="439.7" y="303.3" font-size="7.2" text-anchor="start" fill="#2b2b2b" font-weight="normal" font-style="normal" textLength="48" lengthAdjust="spacingAndGlyphs">Flow Cytometry</text>
<text x="453" y="326.8" font-size="7.2" text-anchor="start" fill="#2b2b2b" font-weight="normal" font-style="normal" textLength="22" lengthAdjust="spacingAndGlyphs">CyTOF</text>
<text x="197.2" y="397.3" font-size="8.2" text-anchor="start" fill="#2b2b2b" font-weight="normal" font-style="normal" textLength="23.7" lengthAdjust="spacingAndGlyphs">PBMC</text>
<circle cx="207.5" cy="405.1" r="3.4" fill="#1a1a1a"/>
<text x="284.1" y="397.4" font-size="8.2" text-anchor="start" fill="#2b2b2b" font-weight="normal" font-style="normal" textLength="7.4" lengthAdjust="spacingAndGlyphs">IP</text>
<rect x="282.8" y="400.9" width="8.4" height="8.1" fill="#fff" stroke="#3a3a3a" stroke-width="1.25"/>
<circle cx="326.3" cy="404.9" r="3.4" fill="#1a1a1a"/>
<circle cx="364.2" cy="404.7" r="3.4" fill="#1a1a1a"/>
<text x="441" y="399.8" font-size="8.0" text-anchor="start" fill="#2b2b2b" font-weight="normal" font-style="normal" textLength="45" lengthAdjust="spacingAndGlyphs">scRNA-seq/</text>
<text x="441" y="409.8" font-size="8.0" text-anchor="start" fill="#2b2b2b" font-weight="normal" font-style="normal" textLength="41.2" lengthAdjust="spacingAndGlyphs">scTCR-seq</text>
<text x="200.8" y="476.1" font-size="8.2" text-anchor="start" fill="#2b2b2b" font-weight="normal" font-style="normal" textLength="16.4" lengthAdjust="spacingAndGlyphs">CBC</text>
<path d="M207.4,480.6 L213.2,488.4 H201.6 Z" fill="#fff" stroke="#2a2a2a" stroke-width="1.3" stroke-linejoin="miter"/>
<rect x="0" y="0" width="520" height="1" fill="#555"/><rect x="0" y="525" width="520" height="1" fill="#555"/><rect x="0" y="0" width="1" height="526" fill="#555"/><rect x="519" y="0" width="1" height="526" fill="#555"/>
</svg></body></html>
